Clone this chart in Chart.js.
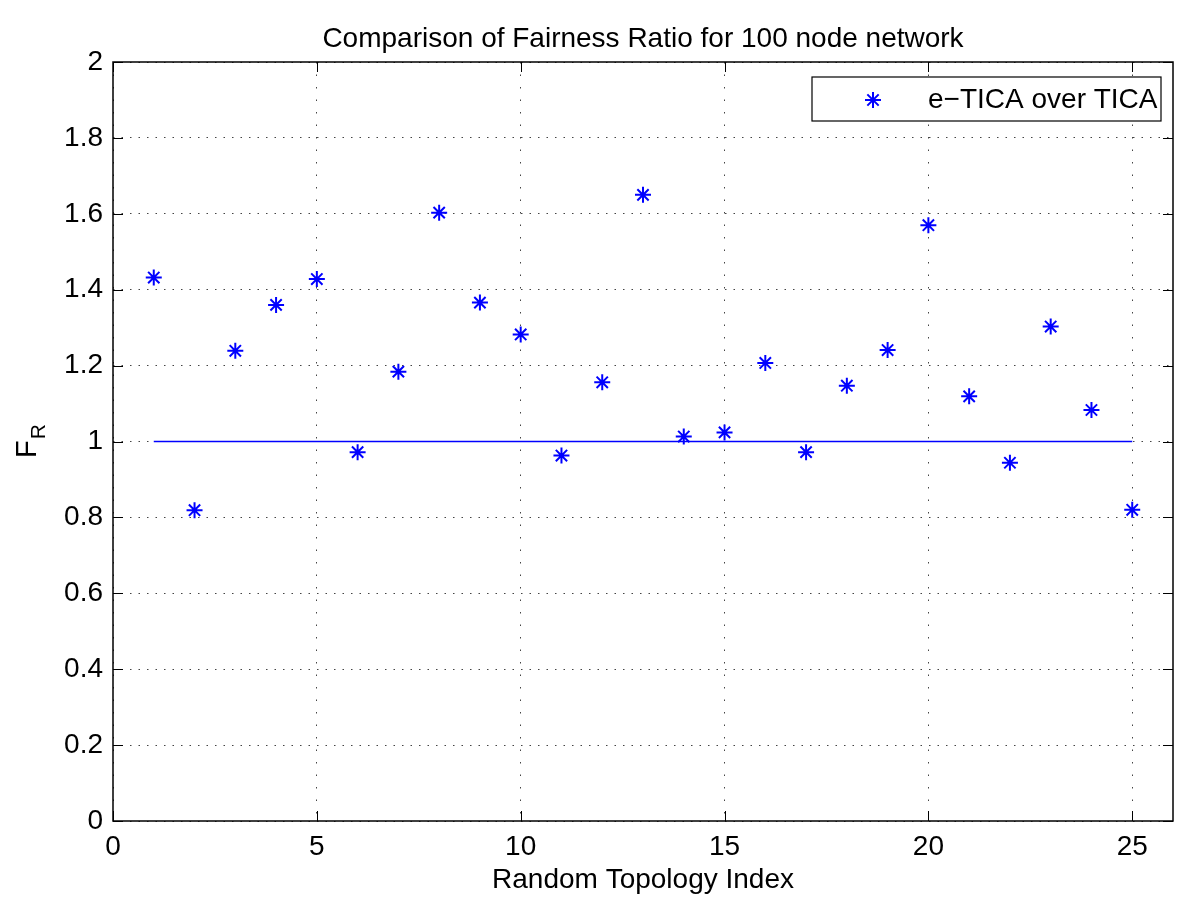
<!DOCTYPE html>
<html>
<head>
<meta charset="utf-8">
<script src="https://cdn.jsdelivr.net/npm/chart.js@4/dist/chart.umd.min.js"></script>
<style>
  html, body { margin: 0; padding: 0; background: #fff; }
  canvas { display: block; }
</style>
</head>
<body>
<canvas id="chart" width="1200" height="914"></canvas>
<script>
const topologyIndex = [1, 2, 3, 4, 5, 6, 7, 8, 9, 10, 11, 12, 13, 14, 15, 16, 17, 18, 19, 20, 21, 22, 23, 24, 25];
const fairnessRatio = [1.432, 0.819, 1.239, 1.360, 1.428, 0.972, 1.184, 1.603, 1.366, 1.282, 0.963, 1.156, 1.650,
  1.013, 1.024, 1.207, 0.972, 1.147, 1.241, 1.570, 1.119, 0.944, 1.303, 1.083, 0.820];
const baselineX = [1, 25];
const baselineY = [1, 1];

const titleText = 'Comparison of Fairness Ratio for 100 node network';
const xLabel = 'Random Topology Index';
const legendText = 'e\u2212TICA over TICA';

const FONT = '"Liberation Sans", Arial, Helvetica, sans-serif';
const BLUE = '#0000ff';

// frame, inside ticks, labels and legend, matlab style
const matlabPlot = {
  id: 'matlabPlot',
  afterDraw(chart) {
    const ctx = chart.ctx;
    const a = chart.chartArea;
    const xs = chart.scales.x, ys = chart.scales.y;
    ctx.save();

    ctx.strokeStyle = '#000';
    ctx.lineWidth = 1.5;
    ctx.strokeRect(a.left, a.top, a.right - a.left, a.bottom - a.top);

    ctx.lineWidth = 1;
    ctx.beginPath();
    xs.ticks.forEach(t => {
      const px = Math.round(xs.getPixelForValue(t.value)) + 0.5;
      ctx.moveTo(px, a.bottom); ctx.lineTo(px, a.bottom - 10);
      ctx.moveTo(px, a.top); ctx.lineTo(px, a.top + 10);
    });
    ys.ticks.forEach(t => {
      const py = Math.round(ys.getPixelForValue(t.value)) + 0.5;
      ctx.moveTo(a.left, py); ctx.lineTo(a.left + 10, py);
      ctx.moveTo(a.right, py); ctx.lineTo(a.right - 10, py);
    });
    ctx.stroke();

    ctx.fillStyle = '#000';
    ctx.textAlign = 'center';
    ctx.textBaseline = 'alphabetic';
    ctx.font = '28px ' + FONT;
    ctx.fillText(titleText, (a.left + a.right) / 2, 47);
    ctx.fillText(xLabel, (a.left + a.right) / 2, 888);

    // y label F with subscript R
    ctx.save();
    ctx.translate(36, 458);
    ctx.rotate(-Math.PI / 2);
    ctx.textAlign = 'left';
    ctx.font = '29px ' + FONT;
    ctx.fillText('F', 0, 0);
    const fw = ctx.measureText('F').width;
    ctx.font = '21px ' + FONT;
    ctx.fillText('R', fw + 1, 9);
    ctx.restore();

    // legend
    ctx.fillStyle = '#fff';
    ctx.fillRect(812, 77, 349, 44);
    ctx.strokeStyle = '#000';
    ctx.lineWidth = 1.2;
    ctx.strokeRect(812, 77, 349, 44);
    ctx.strokeStyle = BLUE;
    ctx.lineWidth = 2;
    Chart.helpers.drawPoint(ctx, { pointStyle: 'star', radius: 8, rotation: 0, borderWidth: 2 }, 873, 100);
    ctx.fillStyle = '#000';
    ctx.textAlign = 'left';
    ctx.textBaseline = 'middle';
    ctx.font = '28px ' + FONT;
    ctx.fillText(legendText, 928, 100);

    ctx.restore();
  }
};

const tickFont = { family: FONT, size: 28 };

new Chart(document.getElementById('chart'), {
  type: 'scatter',
  data: {
    datasets: [
      {
        label: legendText,
        data: topologyIndex.map((x, i) => ({ x, y: fairnessRatio[i] })),
        pointStyle: 'star',
        pointRadius: 8,
        pointBorderWidth: 2,
        borderColor: BLUE,
        backgroundColor: BLUE,
        showLine: false
      },
      {
        label: 'baseline',
        data: baselineX.map((x, i) => ({ x, y: baselineY[i] })),
        showLine: true,
        borderColor: BLUE,
        borderWidth: 1.5,
        pointRadius: 0,
        fill: false
      }
    ]
  },
  options: {
    responsive: false,
    animation: false,
    layout: { padding: { top: 62, right: 27, left: 0, bottom: 0 } },
    plugins: {
      legend: { display: false },
      title: { display: false },
      tooltip: { enabled: false }
    },
    scales: {
      x: {
        type: 'linear',
        min: 0,
        max: 26,
        afterFit: s => { s.height = 93; },
        ticks: { stepSize: 5, includeBounds: false, color: '#000', padding: 9, font: tickFont },
        grid: { color: '#444', lineWidth: 1, drawTicks: false },
        border: { display: false, dash: [1.5, 11] }
      },
      y: {
        min: 0,
        max: 2,
        afterFit: s => { s.width = 113; },
        ticks: {
          stepSize: 0.2, color: '#000', padding: 10, font: tickFont,
          callback: v => String(+v.toFixed(1))
        },
        grid: { color: '#444', lineWidth: 1, drawTicks: false },
        border: { display: false, dash: [1.5, 7] }
      }
    }
  },
  plugins: [matlabPlot]
});
</script>
</body>
</html>
